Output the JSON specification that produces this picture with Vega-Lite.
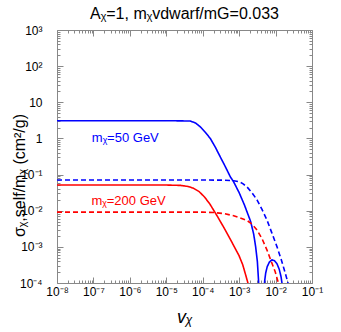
{
  "$schema": "https://vega.github.io/schema/vega-lite/v6.json",
  "width": 255,
  "height": 253,
  "autosize": {"type": "none"},
  "padding": {"left": 57, "top": 30, "right": 29, "bottom": 49},
  "title": {"text": "Aᵪ=1, mᵪvdwarf/mG=0.033", "fontSize": 16, "fontWeight": "normal", "font": "Liberation Sans", "color": "black", "anchor": "middle", "offset": 2},
  "config": {
    "font": "Liberation Sans",
    "view": {"stroke": null},
    "axis": {
      "domainColor": "#888888",
      "tickColor": "#888888",
      "grid": false,
      "labelFlush": false,
      "labelBound": false,
      "labelOverlap": false,
      "labelFontSize": 12,
      "labelColor": "black",
      "tickCount": 20,
      "tickSize": {"condition": {"test": "abs(datum.value / pow(10, round(log(datum.value)/LN10)) - 1) < 1e-6", "value": -6}, "value": -3}
    }
  },
  "datasets": {
    "curves": [
      {"m": "50", "d": "solid", "seg": "50a", "v": 1e-8, "sig": 3.09},
      {"m": "50", "d": "solid", "seg": "50a", "v": 1e-6, "sig": 3.09},
      {"m": "50", "d": "solid", "seg": "50a", "v": 1e-5, "sig": 3.09},
      {"m": "50", "d": "solid", "seg": "50a", "v": 2.51e-5, "sig": 3.06},
      {"m": "50", "d": "solid", "seg": "50a", "v": 4.57e-5, "sig": 3.02},
      {"m": "50", "d": "solid", "seg": "50a", "v": 6.31e-5, "sig": 2.69},
      {"m": "50", "d": "solid", "seg": "50a", "v": 8.59e-5, "sig": 2.09},
      {"m": "50", "d": "solid", "seg": "50a", "v": 1.175e-4, "sig": 1.48},
      {"m": "50", "d": "solid", "seg": "50a", "v": 1.614e-4, "sig": 1.0},
      {"m": "50", "d": "solid", "seg": "50a", "v": 2.24e-4, "sig": 0.562},
      {"m": "50", "d": "solid", "seg": "50a", "v": 3.03e-4, "sig": 0.309},
      {"m": "50", "d": "solid", "seg": "50a", "v": 4.17e-4, "sig": 0.166},
      {"m": "50", "d": "solid", "seg": "50a", "v": 5.71e-4, "sig": 0.0871},
      {"m": "50", "d": "solid", "seg": "50a", "v": 7.05e-4, "sig": 0.0631},
      {"m": "50", "d": "solid", "seg": "50a", "v": 1e-3, "sig": 0.0316},
      {"m": "50", "d": "solid", "seg": "50a", "v": 1.41e-3, "sig": 0.0141},
      {"m": "50", "d": "solid", "seg": "50a", "v": 2.07e-3, "sig": 0.00501},
      {"m": "50", "d": "solid", "seg": "50a", "v": 2.51e-3, "sig": 0.00224},
      {"m": "50", "d": "solid", "seg": "50a", "v": 2.84e-3, "sig": 0.001},
      {"m": "50", "d": "solid", "seg": "50a", "v": 3.16e-3, "sig": 3.98e-4},
      {"m": "50", "d": "solid", "seg": "50a", "v": 3.42e-3, "sig": 1.1e-4},
      {"m": "50", "d": "solid", "seg": "50a", "v": 3.6e-3, "sig": 1e-5},
      {"m": "50", "d": "solid", "seg": "50b", "v": 4.79e-3, "sig": 5.0e-5},
      {"m": "50", "d": "solid", "seg": "50b", "v": 5.01e-3, "sig": 1.12e-4},
      {"m": "50", "d": "solid", "seg": "50b", "v": 5.37e-3, "sig": 1.91e-4},
      {"m": "50", "d": "solid", "seg": "50b", "v": 5.89e-3, "sig": 2.82e-4},
      {"m": "50", "d": "solid", "seg": "50b", "v": 6.76e-3, "sig": 3.80e-4},
      {"m": "50", "d": "solid", "seg": "50b", "v": 7.94e-3, "sig": 4.37e-4},
      {"m": "50", "d": "solid", "seg": "50b", "v": 9.33e-3, "sig": 4.17e-4},
      {"m": "50", "d": "solid", "seg": "50b", "v": 1.096e-2, "sig": 3.39e-4},
      {"m": "50", "d": "solid", "seg": "50b", "v": 1.26e-2, "sig": 2.40e-4},
      {"m": "50", "d": "solid", "seg": "50b", "v": 1.41e-2, "sig": 1.51e-4},
      {"m": "50", "d": "solid", "seg": "50b", "v": 1.51e-2, "sig": 9.5e-5},
      {"m": "50", "d": "solid", "seg": "50b", "v": 1.585e-2, "sig": 4.0e-5},
      {"m": "50", "d": "dashed", "seg": "50d", "v": 1e-8, "sig": 0.0708},
      {"m": "50", "d": "dashed", "seg": "50d", "v": 1e-4, "sig": 0.0708},
      {"m": "50", "d": "dashed", "seg": "50d", "v": 3.98e-4, "sig": 0.0700},
      {"m": "50", "d": "dashed", "seg": "50d", "v": 7.08e-4, "sig": 0.0676},
      {"m": "50", "d": "dashed", "seg": "50d", "v": 1e-3, "sig": 0.0631},
      {"m": "50", "d": "dashed", "seg": "50d", "v": 1.26e-3, "sig": 0.0562},
      {"m": "50", "d": "dashed", "seg": "50d", "v": 1.64e-3, "sig": 0.0457},
      {"m": "50", "d": "dashed", "seg": "50d", "v": 2.24e-3, "sig": 0.0316},
      {"m": "50", "d": "dashed", "seg": "50d", "v": 3.09e-3, "sig": 0.0200},
      {"m": "50", "d": "dashed", "seg": "50d", "v": 4.27e-3, "sig": 0.0107},
      {"m": "50", "d": "dashed", "seg": "50d", "v": 5.82e-3, "sig": 0.0055},
      {"m": "50", "d": "dashed", "seg": "50d", "v": 7.94e-3, "sig": 0.0024},
      {"m": "50", "d": "dashed", "seg": "50d", "v": 1.096e-2, "sig": 0.001},
      {"m": "50", "d": "dashed", "seg": "50d", "v": 1.41e-2, "sig": 4.68e-4},
      {"m": "50", "d": "dashed", "seg": "50d", "v": 1.85e-2, "sig": 1.86e-4},
      {"m": "50", "d": "dashed", "seg": "50d", "v": 2.19e-2, "sig": 1e-4},
      {"m": "50", "d": "dashed", "seg": "50d", "v": 2.51e-2, "sig": 6.3e-5},
      {"m": "200", "d": "solid", "seg": "200s", "v": 1e-8, "sig": 0.0513},
      {"m": "200", "d": "solid", "seg": "200s", "v": 1e-5, "sig": 0.0513},
      {"m": "200", "d": "solid", "seg": "200s", "v": 2.51e-5, "sig": 0.0501},
      {"m": "200", "d": "solid", "seg": "200s", "v": 3.98e-5, "sig": 0.0468},
      {"m": "200", "d": "solid", "seg": "200s", "v": 5.62e-5, "sig": 0.0417},
      {"m": "200", "d": "solid", "seg": "200s", "v": 7.94e-5, "sig": 0.0339},
      {"m": "200", "d": "solid", "seg": "200s", "v": 1.12e-4, "sig": 0.0240},
      {"m": "200", "d": "solid", "seg": "200s", "v": 1.585e-4, "sig": 0.0151},
      {"m": "200", "d": "solid", "seg": "200s", "v": 2.51e-4, "sig": 0.00708},
      {"m": "200", "d": "solid", "seg": "200s", "v": 3.98e-4, "sig": 0.00316},
      {"m": "200", "d": "solid", "seg": "200s", "v": 6.31e-4, "sig": 0.00135},
      {"m": "200", "d": "solid", "seg": "200s", "v": 1e-3, "sig": 5.62e-4},
      {"m": "200", "d": "solid", "seg": "200s", "v": 1.26e-3, "sig": 3.16e-4},
      {"m": "200", "d": "solid", "seg": "200s", "v": 1.585e-3, "sig": 1.41e-4},
      {"m": "200", "d": "solid", "seg": "200s", "v": 1.74e-3, "sig": 1e-4},
      {"m": "200", "d": "solid", "seg": "200s", "v": 1.905e-3, "sig": 2.5e-5},
      {"m": "200", "d": "dashed", "seg": "200d", "v": 1e-8, "sig": 0.00912},
      {"m": "200", "d": "dashed", "seg": "200d", "v": 1e-4, "sig": 0.00912},
      {"m": "200", "d": "dashed", "seg": "200d", "v": 2.0e-4, "sig": 0.00891},
      {"m": "200", "d": "dashed", "seg": "200d", "v": 3.98e-4, "sig": 0.00832},
      {"m": "200", "d": "dashed", "seg": "200d", "v": 7.08e-4, "sig": 0.00724},
      {"m": "200", "d": "dashed", "seg": "200d", "v": 1e-3, "sig": 0.00646},
      {"m": "200", "d": "dashed", "seg": "200d", "v": 1.64e-3, "sig": 0.00537},
      {"m": "200", "d": "dashed", "seg": "200d", "v": 2.24e-3, "sig": 0.00427},
      {"m": "200", "d": "dashed", "seg": "200d", "v": 3.09e-3, "sig": 0.00295},
      {"m": "200", "d": "dashed", "seg": "200d", "v": 4.27e-3, "sig": 0.00166},
      {"m": "200", "d": "dashed", "seg": "200d", "v": 5.82e-3, "sig": 8.13e-4},
      {"m": "200", "d": "dashed", "seg": "200d", "v": 7.59e-3, "sig": 3.98e-4},
      {"m": "200", "d": "dashed", "seg": "200d", "v": 9.77e-3, "sig": 2.04e-4},
      {"m": "200", "d": "dashed", "seg": "200d", "v": 1.12e-2, "sig": 1.26e-4},
      {"m": "200", "d": "dashed", "seg": "200d", "v": 1.2e-2, "sig": 1e-4},
      {"m": "200", "d": "dashed", "seg": "200d", "v": 1.29e-2, "sig": 5e-5}
    ],
    "labels": [
      {"m": "50", "text": "mᵪ=50 GeV", "v": 7.5e-7, "sig": 1.03},
      {"m": "200", "text": "mᵪ=200 GeV", "v": 9.2e-7, "sig": 0.019}
    ]
  },
  "layer": [
    {
      "data": {"name": "curves"},
      "mark": {"type": "line", "clip": true, "strokeWidth": 1.6},
      "encoding": {
        "x": {"field": "v", "type": "quantitative", "scale": {"type": "log", "domain": [1e-8, 0.1], "nice": false},
          "axis": {"orient": "bottom", "title": "vᵪ", "titleFontSize": 18, "titleFontWeight": "normal", "titleFontStyle": "italic", "titleColor": "black", "titleBaseline": "middle", "titleY": 34, "labelPadding": 9,
            "labelExpr": "abs(datum.value / pow(10, round(log(datum.value)/LN10)) - 1) > 1e-6 ? '' : '10' + (round(log(datum.value)/LN10) < 0 ? '⁻' : '') + ['⁰','¹','²','³','⁴','⁵','⁶','⁷','⁸','⁹'][abs(round(log(datum.value)/LN10))]"}},
        "y": {"field": "sig", "type": "quantitative", "scale": {"type": "log", "domain": [1e-4, 1000], "nice": false},
          "axis": {"orient": "left", "title": "σᵪ,self/mᵪ (cm²/g)", "titleFontSize": 16, "titleFontWeight": "normal", "titleColor": "black", "titleAngle": -90, "titleBaseline": "middle", "titleX": -38, "titleY": 145, "labelPadding": 21,
            "labelExpr": "abs(datum.value / pow(10, round(log(datum.value)/LN10)) - 1) > 1e-6 ? '' : round(log(datum.value)/LN10) == 0 ? '1' : round(log(datum.value)/LN10) == 1 ? '10' : '10' + (round(log(datum.value)/LN10) < 0 ? '⁻' : '') + ['⁰','¹','²','³','⁴','⁵','⁶','⁷','⁸','⁹'][abs(round(log(datum.value)/LN10))]"}},
        "color": {"field": "m", "type": "nominal", "scale": {"domain": ["50", "200"], "range": ["#0000ff", "#ff0000"]}, "legend": null},
        "strokeDash": {"field": "d", "type": "nominal", "scale": {"domain": ["solid", "dashed"], "range": [[1, 0], [5, 3]]}, "legend": null},
        "detail": {"field": "seg"}
      }
    },
    {
      "data": {"name": "labels"},
      "mark": {"type": "text", "fontSize": 13, "align": "center", "baseline": "middle"},
      "encoding": {
        "x": {"field": "v", "type": "quantitative", "axis": {"orient": "top", "labels": false, "title": null}},
        "y": {"field": "sig", "type": "quantitative", "axis": {"orient": "right", "labels": false, "title": null}},
        "text": {"field": "text"},
        "color": {"field": "m", "type": "nominal", "legend": null}
      }
    }
  ],
  "resolve": {"axis": {"x": "independent", "y": "independent"}}
}
